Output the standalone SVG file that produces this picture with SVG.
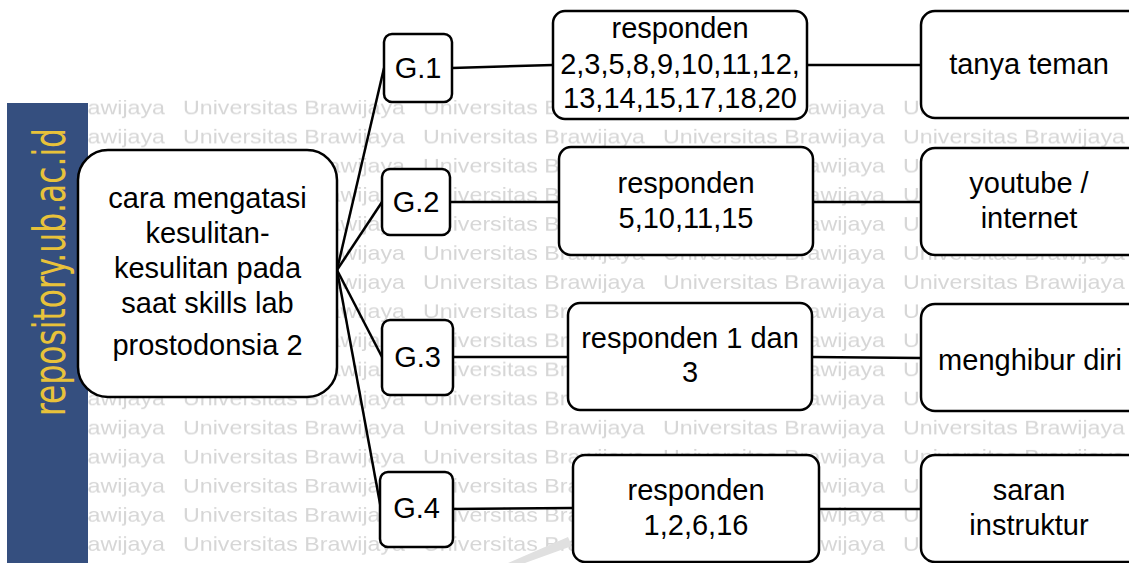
<svg xmlns="http://www.w3.org/2000/svg" width="1129" height="563" viewBox="0 0 1129 563">
<style>
.box{fill:#fff;stroke:#000;stroke-width:2.5}
.t{font-family:"Liberation Sans",Arial,sans-serif;font-size:29px;fill:#000;text-anchor:middle}
.wm{font-family:"Liberation Sans",Arial,sans-serif;font-size:20px;fill:#d6d6d6}
.con{stroke:#000;stroke-width:2.5;fill:none}
</style>
<defs>
<pattern id="wmp" patternUnits="userSpaceOnUse" x="183" y="92" width="240" height="29.1">
<text class="wm" x="0" y="22" textLength="222" lengthAdjust="spacingAndGlyphs">Universitas Brawijaya</text>
</pattern>
</defs>
<rect width="1129" height="563" fill="#fff"/>
<g id="watermark">
<rect x="88" y="100" width="1041" height="463" fill="url(#wmp)"/>
<polygon points="508,563 568,537 572,546 525,563" fill="#e0e0e0"/>
<rect x="7" y="103" width="81" height="460" fill="#354f7f"/>
<text transform="translate(65,416) rotate(-90)" x="0" y="0" textLength="288" lengthAdjust="spacingAndGlyphs" style="font-family:'DejaVu Sans Condensed','DejaVu Sans',sans-serif;font-size:45px;fill:#e8c23a">repository.ub.ac.id</text>
</g>
<g id="connectors">
<line class="con" x1="337" y1="270" x2="384" y2="68"/>
<line class="con" x1="337" y1="270" x2="382" y2="202"/>
<line class="con" x1="337" y1="270" x2="382" y2="357"/>
<line class="con" x1="337" y1="270" x2="381" y2="509"/>
<line class="con" x1="452" y1="68" x2="553" y2="65"/>
<line class="con" x1="450" y1="202" x2="559" y2="202"/>
<line class="con" x1="453" y1="357" x2="568" y2="357"/>
<line class="con" x1="453" y1="509" x2="573" y2="508"/>
<line class="con" x1="807" y1="65" x2="921" y2="65"/>
<line class="con" x1="813" y1="202" x2="921" y2="202"/>
<line class="con" x1="812" y1="357" x2="921" y2="358"/>
<line class="con" x1="819" y1="509" x2="921" y2="509"/>
</g>
<g id="root">
<rect class="box" x="78" y="150" width="259" height="247" rx="30"/>
<text class="t" x="207.5" y="208">cara mengatasi</text>
<text class="t" x="207.5" y="243">kesulitan-</text>
<text class="t" x="207.5" y="278">kesulitan pada</text>
<text class="t" x="207.5" y="313">saat skills lab</text>
<text class="t" x="207.5" y="355">prostodonsia 2</text>
</g>
<g id="g1">
<rect class="box" x="384" y="34" width="68" height="68" rx="8"/>
<text class="t" x="418" y="78">G.1</text>
</g>
<g id="g2">
<rect class="box" x="382" y="169" width="68" height="66" rx="8"/>
<text class="t" x="416" y="212">G.2</text>
</g>
<g id="g3">
<rect class="box" x="382" y="320" width="71" height="75" rx="8"/>
<text class="t" x="417.5" y="367">G.3</text>
</g>
<g id="g4">
<rect class="box" x="380" y="472" width="73" height="75" rx="8"/>
<text class="t" x="416.5" y="518">G.4</text>
</g>
<g id="r1">
<rect class="box" x="553" y="11" width="254" height="108" rx="12"/>
<text class="t" x="680" y="38">responden</text>
<text class="t" x="680" y="74">2,3,5,8,9,10,11,12,</text>
<text class="t" x="680" y="108">13,14,15,17,18,20</text>
</g>
<g id="r2">
<rect class="box" x="559" y="147" width="254" height="108" rx="12"/>
<text class="t" x="686" y="193">responden</text>
<text class="t" x="686" y="228">5,10,11,15</text>
</g>
<g id="r3">
<rect class="box" x="568" y="303" width="244" height="107" rx="12"/>
<text class="t" x="690" y="348">responden 1 dan</text>
<text class="t" x="690" y="382">3</text>
</g>
<g id="r4">
<rect class="box" x="573" y="455" width="246" height="107" rx="12"/>
<text class="t" x="696" y="500">responden</text>
<text class="t" x="696" y="535">1,2,6,16</text>
</g>
<g id="t1">
<rect class="box" x="921" y="11" width="230" height="107" rx="14"/>
<text class="t" x="1029" y="74">tanya teman</text>
</g>
<g id="t2">
<rect class="box" x="921" y="148" width="230" height="107" rx="14"/>
<text class="t" x="1029" y="193">youtube /</text>
<text class="t" x="1029" y="228">internet</text>
</g>
<g id="t3">
<rect class="box" x="921" y="304" width="230" height="107" rx="14"/>
<text class="t" x="1030" y="370">menghibur diri</text>
</g>
<g id="t4">
<rect class="box" x="921" y="455" width="230" height="107" rx="14"/>
<text class="t" x="1029" y="500">saran</text>
<text class="t" x="1029" y="535">instruktur</text>
</g>
</svg>
